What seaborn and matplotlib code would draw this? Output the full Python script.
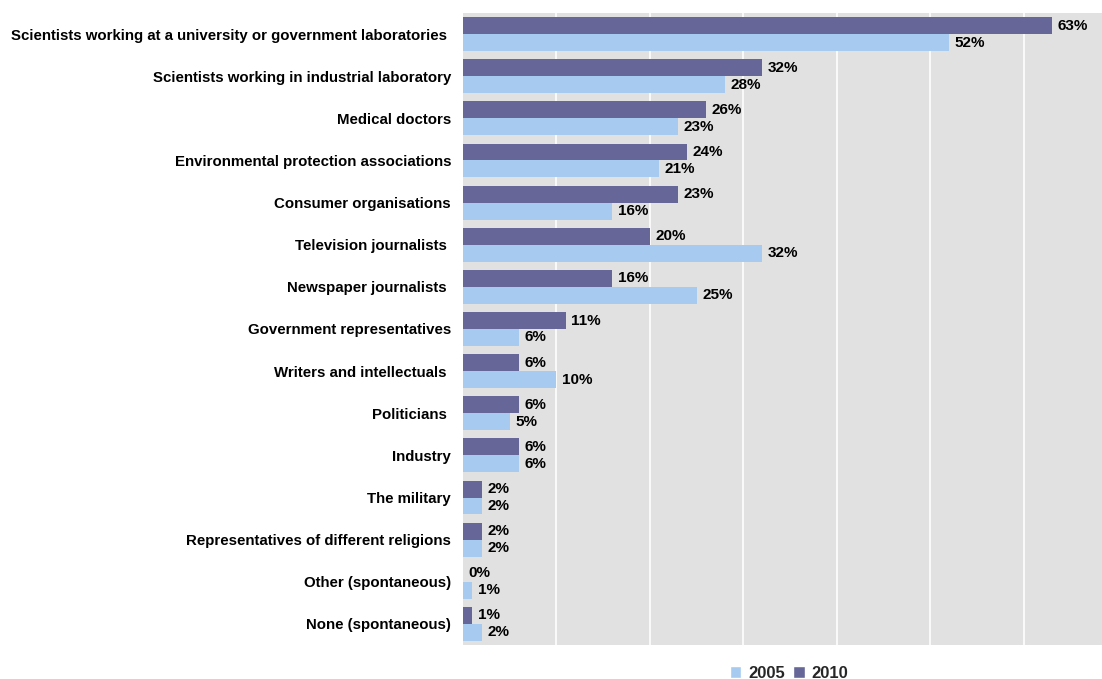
import matplotlib
matplotlib.use("Agg")
import matplotlib.pyplot as plt
from matplotlib.patches import Patch
import seaborn as sns
import pandas as pd

categories = [
    "Scientists working at a university or government laboratories ",
    "Scientists working in industrial laboratory",
    "Medical doctors",
    "Environmental protection associations",
    "Consumer organisations",
    "Television journalists ",
    "Newspaper journalists ",
    "Government representatives",
    "Writers and intellectuals ",
    "Politicians ",
    "Industry",
    "The military",
    "Representatives of different religions",
    "Other (spontaneous)",
    "None (spontaneous)",
]
values_2010 = [63, 32, 26, 24, 23, 20, 16, 11, 6, 6, 6, 2, 2, 0, 1]
values_2005 = [52, 28, 23, 21, 16, 32, 25, 6, 10, 5, 6, 2, 2, 1, 2]
years = ["2010", "2005"]

COL_2010 = "#666699"
COL_2005 = "#A6CAF0"
BG = "#E1E1E1"

df = pd.DataFrame({
    "category": categories * 2,
    "value": values_2010 + values_2005,
    "year": [years[0]] * len(categories) + [years[1]] * len(categories),
})

sns.set_theme(style="white")
plt.rcParams["font.family"] = ["Liberation Sans", "DejaVu Sans"]

fig = plt.figure(figsize=(11.02, 6.79), dpi=100)
ax = fig.add_axes([463 / 1102, 1 - 645 / 679, 1 - 463 / 1102, (645 - 13) / 679])
ax.set_facecolor(BG)

sns.barplot(
    data=df, x="value", y="category", hue="year", hue_order=years,
    palette={"2010": COL_2010, "2005": COL_2005},
    orient="h", width=0.805, saturation=1, linewidth=0, ax=ax, legend=False,
)

for container in ax.containers:
    ax.bar_label(container, fmt="%d%%", padding=4, fontsize=11,
                 fontweight="bold", color="black")

ax.set_xlim(0, 68.4)
ax.set_xticks(range(10, 70, 10))
ax.set_xticklabels([])
ax.tick_params(axis="x", length=0)
ax.tick_params(axis="y", length=0, pad=8.6, labelsize=10.8)
for lbl in ax.get_yticklabels():
    lbl.set_fontweight("bold")
    lbl.set_color("black")
ax.grid(axis="x", color="white", linewidth=1.2)
ax.set_axisbelow(True)
ax.set_xlabel("")
ax.set_ylabel("")
for s in ax.spines.values():
    s.set_visible(False)

handles = [Patch(facecolor=COL_2005, label="2005"),
           Patch(facecolor=COL_2010, label="2010")]
fig.legend(handles=handles, loc="center", bbox_to_anchor=(789 / 1102, 1 - 673 / 679),
           ncol=2, frameon=False, handlelength=0.7, handleheight=0.7,
           handletextpad=0.4, columnspacing=0.5,
           prop={"weight": "bold", "size": 12})

fig.savefig("out.png", dpi=100)
